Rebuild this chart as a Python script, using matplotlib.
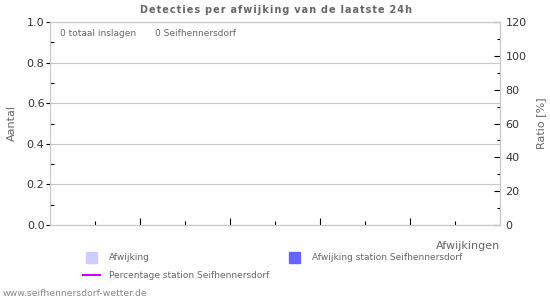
import matplotlib
matplotlib.use("Agg")
import matplotlib.pyplot as plt
from matplotlib.patches import Rectangle
from matplotlib.lines import Line2D

# chart data (no detections in the last 24h)
deviations = [1, 2, 3, 4, 5, 6, 7, 8, 9]
total_counts = [0, 0, 0, 0, 0, 0, 0, 0, 0]
station_counts = [0, 0, 0, 0, 0, 0, 0, 0, 0]
station_ratio = [0, 0, 0, 0, 0, 0, 0, 0, 0]
total_strikes = 0
station_strikes = 0
station = "Seifhennersdorf"

grey = "#666666"
frame = "#c8c8c8"
plt.rcParams["font.family"] = "DejaVu Sans"
plt.rcParams["font.size"] = 7

fig = plt.figure(figsize=(5.5, 3.0), dpi=100)
ax = fig.add_axes([50 / 550, 1 - 225 / 300, 450 / 550, 203 / 300])
ax2 = ax.twinx()

ax.bar(deviations, total_counts, width=0.8, color="#ccccff")
ax.bar(deviations, station_counts, width=0.5, color="#6666ff")
# empty ratio series sits on the baseline, under the frame
ax2.plot(deviations, station_ratio, color="#cc00ff", lw=0.5, zorder=1)

ax.set_xlim(0, 10)
ax.set_ylim(0, 1.0)
ax2.set_ylim(0, 120)
ax.set_yticks([0, 0.2, 0.4, 0.6, 0.8, 1.0])
ax.set_yticklabels(["0.0", "0.2", "0.4", "0.6", "0.8", "1.0"])
ax.set_yticks([0.1, 0.3, 0.5, 0.7, 0.9], minor=True)
ax2.set_yticks([0, 20, 40, 60, 80, 100, 120])
ax2.set_yticks([10, 30, 50, 70, 90, 110], minor=True)
ax.set_xticks([2, 4, 6, 8])
ax.set_xticks([1, 3, 5, 7, 9], minor=True)
ax.set_xticklabels([])

ax.grid(axis="y", color=frame, lw=0.8)
ax.set_axisbelow(True)
for a in (ax, ax2):
    for s in a.spines.values():
        s.set_color(frame)
        s.set_linewidth(0.8)
        s.set_zorder(5)

ax.tick_params(axis="y", which="major", direction="out", length=3, width=0.8,
               colors="black", labelsize=8, pad=1)
ax.tick_params(axis="y", which="minor", direction="in", length=3, width=0.8)
ax.tick_params(axis="x", which="major", direction="in", length=5, width=0.8)
ax.tick_params(axis="x", which="minor", direction="in", length=3, width=0.8)
ax2.tick_params(axis="y", which="major", direction="in", length=4, width=0.8,
                labelsize=8, pad=4)
ax2.tick_params(axis="y", which="minor", direction="in", length=2, width=0.8)
for lbl in ax.get_yticklabels() + ax2.get_yticklabels():
    lbl.set_color("#333333")

title = "Detecties per afwijking van de laatste 24h"
spaced = "\u200a".join(title).replace("\u200a \u200a", "\u2002")
fig.text(276 / 550, 1 - 10 / 300, spaced, ha="center", va="center",
         fontsize=7, fontweight="bold", color=grey)
fig.text(12 / 550, 1 - 123 / 300, "Aantal", rotation=90, ha="center", va="center",
         fontsize=8, color=grey)
fig.text(541 / 550, 1 - 123 / 300, "Ratio [%]", rotation=90, ha="center", va="center",
         fontsize=8, color=grey)
fig.text(500 / 550, 1 - 246 / 300, "Afwijkingen", ha="right", va="center",
         fontsize=8, color=grey)
fig.text(60 / 550, 1 - 34 / 300, f"{total_strikes} totaal inslagen", ha="left", va="center",
         fontsize=6.5, color=grey)
fig.text(155 / 550, 1 - 34 / 300, f"{station_strikes} {station}", ha="left", va="center",
         fontsize=6.5, color=grey)

# legend
fig.patches.append(Rectangle((86 / 550, 1 - 263 / 300), 11 / 550, 11 / 300,
                             transform=fig.transFigure, color="#ccccff"))
fig.patches.append(Rectangle((289 / 550, 1 - 263 / 300), 11 / 550, 11 / 300,
                             transform=fig.transFigure, color="#6666ff"))
fig.lines.append(Line2D([83 / 550, 100 / 550], [1 - 275 / 300, 1 - 275 / 300],
                        transform=fig.transFigure, color="#cc00ff", lw=1.5))
fig.text(109 / 550, 1 - 258 / 300, "Afwijking", ha="left", va="center",
         fontsize=6.5, color=grey)
fig.text(312 / 550, 1 - 258 / 300, f"Afwijking station {station}", ha="left", va="center",
         fontsize=6.5, color=grey)
fig.text(109 / 550, 1 - 275 / 300, f"Percentage station {station}", ha="left", va="center",
         fontsize=6.5, color=grey)
fig.text(3 / 550, 1 - 294 / 300, "www.seifhennersdorf-wetter.de", ha="left", va="center",
         fontsize=6.7, color="#888888")

fig.savefig("out.png", dpi=100)
